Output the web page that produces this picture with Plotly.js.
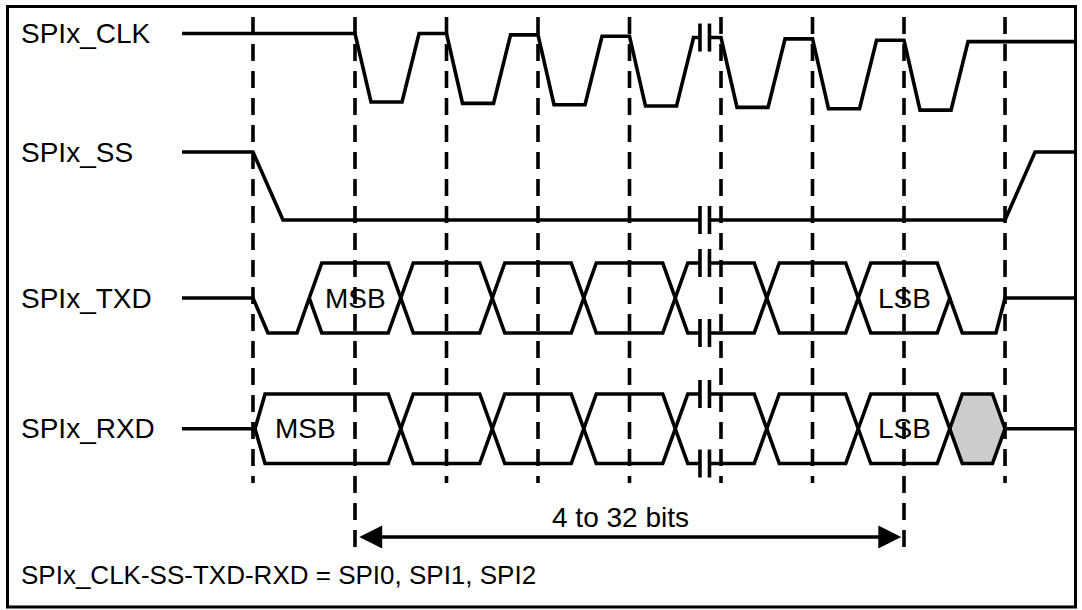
<!DOCTYPE html>
<html><head><meta charset="utf-8">
<script src="https://cdn.plot.ly/plotly-3.0.1.min.js"></script>
<style>html,body{margin:0;padding:0;background:#fff;}#chart{width:1082px;height:610px;}</style>
</head><body><div id="chart"></div>
<script>
// ---------------- data (time in bit periods, t = 0 at first SPIx_CLK falling edge) ----------------
const signalNames   = ['SPIx_CLK', 'SPIx_SS', 'SPIx_TXD', 'SPIx_RXD'];
const clkFallEdges  = [0, 1, 2, 3, 4, 5, 6];
const ssEdges       = [-1.115, 7.104];                 // SS falling, SS rising
const dataCrossings = [-0.5, 0.5, 1.5, 2.5, 3.5, 4.5, 5.5, 6.5];
const txdBitLabels  = ['MSB', '', '', '', '', '', 'LSB'];
const rxdBitLabels  = ['MSB', '', '', '', '', '', 'LSB'];
const txdLeadLow    = [-0.951, -0.634];               // TXD low before MSB
const txdTailLowEnd = 7.005;                          // TXD low after LSB
const rxdStart      = -1.093;                         // RXD MSB starts
const breakAt       = 3.822;                          // time-axis break
const bitSpan       = [0, 6];                         // clock edges spanned by the arrow
const spanText      = '4 to 32 bits';
const noteText      = 'SPIx_CLK-SS-TXD-RXD = SPI0, SPI1, SPI2';

// ---------------- layout / style ----------------
const W = 1082, H = 610, X0PX = 355, PXB = 91.5;
const tStart = (182 - X0PX) / PXB, tEnd = (1074 - X0PX) / PXB;
const ROW = {
  clk: {hi: 33.5, lo: 102, tilt: 1.35},
  ss:  {hi: 152, lo: 220},
  txd: {hi: 263, lo: 333},
  rxd: {hi: 394, lo: 463.5}
};
for (const k in ROW) ROW[k].mid = (ROW[k].hi + ROW[k].lo) / 2;
const CLK_F = 0.175, CLK_RS = 0.514, CLK_RE = 0.70, HALF = 0.137, SS_SLEW = 0.328;
const GAP = 0.052, BAR = 14, LW = 3.6;
const FONT = 'Liberation Sans, Arial, Helvetica, sans-serif';

const bars = [];
function interp(p, q, x) { return p[1] + (q[1] - p[1]) * (x - p[0]) / (q[0] - p[0]); }
function addPath(pts, X, Y) {
  const a = breakAt - GAP, b = breakAt + GAP;
  X.push(pts[0][0]); Y.push(pts[0][1]);
  for (let i = 1; i < pts.length; i++) {
    const p = pts[i - 1], q = pts[i];
    const lo = Math.min(p[0], q[0]), hi = Math.max(p[0], q[0]);
    if (lo < a && hi > b) {
      const f = p[0] < q[0] ? a : b, s = p[0] < q[0] ? b : a;
      X.push(f, null, s); Y.push(interp(p, q, f), null, interp(p, q, s));
      bars.push(interp(p, q, a));
    }
    X.push(q[0]); Y.push(q[1]);
  }
  X.push(null); Y.push(null);
}
function hexPts(c0, c1, r, hl, hr) {
  return [[c0, r.mid], [c0 + hl, r.hi], [c1 - hr, r.hi], [c1, r.mid], [c1 - hr, r.lo], [c0 + hl, r.lo], [c0, r.mid]];
}

const SX = [], SY = [];
// CLK
(function () {
  const r = ROW.clk; let hiPrev = r.hi;
  const pts = [[tStart, hiPrev]];
  clkFallEdges.forEach(k => {
    const yh = r.hi + r.tilt * Math.max(k, 0), yl = r.lo + r.tilt * Math.max(k, 0);
    pts.push([k, hiPrev], [k + CLK_F, yl], [k + CLK_RS, yl], [k + CLK_RE, yh]);
    hiPrev = yh;
  });
  pts.push([tEnd, hiPrev]);
  addPath(pts, SX, SY);
})();
// SS
(function () {
  const r = ROW.ss;
  addPath([[tStart, r.hi], [ssEdges[0], r.hi], [ssEdges[0] + SS_SLEW, r.lo], [ssEdges[1], r.lo],
           [ssEdges[1] + SS_SLEW, r.hi], [tEnd, r.hi]], SX, SY);
})();
// TXD
(function () {
  const r = ROW.txd, dc = dataCrossings;
  addPath([[tStart, r.mid], [ssEdges[0], r.mid], [txdLeadLow[0], r.lo], [txdLeadLow[1], r.lo], [dc[0], r.mid]], SX, SY);
  for (let i = 0; i < dc.length - 1; i++) addPath(hexPts(dc[i], dc[i + 1], r, HALF, HALF), SX, SY);
  const n = dc.length - 1;
  addPath([[dc[n], r.mid], [dc[n] + HALF, r.lo], [txdTailLowEnd, r.lo], [ssEdges[1], r.mid], [tEnd, r.mid]], SX, SY);
})();
// RXD
const grayX = [], grayY = [];
(function () {
  const r = ROW.rxd;
  const bnd = [rxdStart].concat(dataCrossings.slice(1));
  addPath([[tStart, r.mid], [rxdStart, r.mid]], SX, SY);
  for (let i = 0; i < bnd.length - 1; i++) addPath(hexPts(bnd[i], bnd[i + 1], r, i === 0 ? 0.11 : HALF, HALF), SX, SY);
  const last = bnd[bnd.length - 1];
  hexPts(last, ssEdges[1], r, HALF, HALF).forEach(p => { grayX.push(p[0]); grayY.push(p[1]); });
  addPath([[ssEdges[1], r.mid], [tEnd, r.mid]], SX, SY);
})();

// break bars
const BX = [], BY = [];
bars.forEach(y => {
  [breakAt - GAP, breakAt + GAP].forEach(x => { BX.push(x, x, null); BY.push(y - BAR, y + BAR, null); });
});

// dashed timing markers
const DX = [], DY = [];
const markers = [ssEdges[0]].concat(clkFallEdges, [ssEdges[1]]);
markers.forEach(t => {
  const long = (t === bitSpan[0] || t === bitSpan[1]);
  DX.push(t, t, null); DY.push(17, long ? 556 : 483, null);
});

const traces = [
  {x: DX, y: DY, mode: 'lines', line: {color: '#000', width: 3.6, dash: '17px,10px'}, hoverinfo: 'skip'},
  {x: grayX, y: grayY, mode: 'lines', fill: 'toself', fillcolor: '#cccccc', line: {color: '#000', width: LW}, hoverinfo: 'skip'},
  {x: SX, y: SY, mode: 'lines', line: {color: '#000', width: LW}, hoverinfo: 'skip'},
  {x: BX, y: BY, mode: 'lines', line: {color: '#000', width: LW}, hoverinfo: 'skip'}
];

const ann = [];
const labelY = [ROW.clk.hi, ROW.ss.hi, ROW.txd.mid, ROW.rxd.mid];
signalNames.forEach((s, i) => ann.push({xref: 'paper', yref: 'y', x: 19 / W, y: labelY[i], text: s,
  xanchor: 'left', yanchor: 'middle', showarrow: false, font: {family: FONT, size: 28, color: '#000'}}));
txdBitLabels.forEach((s, i) => { if (s) ann.push({x: (dataCrossings[i] + dataCrossings[i + 1]) / 2, y: ROW.txd.mid, text: s,
  showarrow: false, xanchor: 'center', yanchor: 'middle', font: {family: FONT, size: 28, color: '#000'}}); });
rxdBitLabels.forEach((s, i) => { if (s) {
  const x = i === 0 ? (rxdStart + clkFallEdges[0]) / 2 : (dataCrossings[i] + dataCrossings[i + 1]) / 2;
  ann.push({x: x, y: ROW.rxd.mid, text: s, showarrow: false, xanchor: 'center', yanchor: 'middle',
    font: {family: FONT, size: 28, color: '#000'}}); } });
// arrow
ann.push({x: bitSpan[1] - 0.03, y: 537, ax: bitSpan[0] + 0.03, ay: 537, axref: 'x', ayref: 'y', text: '',
  showarrow: true, arrowside: 'end+start', arrowhead: 2, startarrowhead: 2, arrowsize: 1.35, startarrowsize: 1.35,
  arrowwidth: 3.4, arrowcolor: '#000', standoff: 0, startstandoff: 0});
ann.push({x: (bitSpan[0] + bitSpan[1]) / 2 - 0.1, y: 517, text: spanText, showarrow: false, xanchor: 'center', yanchor: 'middle',
  font: {family: FONT, size: 28, color: '#000'}});
ann.push({xref: 'paper', yref: 'y', x: 19 / W, y: 575, text: noteText, showarrow: false, xanchor: 'left', yanchor: 'middle',
  font: {family: FONT, size: 26, color: '#000'}});

const layout = {
  width: W, height: H, autosize: false, margin: {l: 0, r: 0, t: 0, b: 0},
  paper_bgcolor: '#fff', plot_bgcolor: '#fff', showlegend: false,
  xaxis: {range: [-X0PX / PXB, (W - X0PX) / PXB], visible: false, fixedrange: true},
  yaxis: {range: [H, 0], visible: false, fixedrange: true},
  shapes: [{type: 'rect', xref: 'paper', yref: 'y', x0: 7.5 / W, x1: 1075.5 / W, y0: 6.5, y1: 607,
    line: {color: '#000', width: 3}, fillcolor: 'rgba(0,0,0,0)'}],
  annotations: ann
};
Plotly.newPlot('chart', traces, layout, {staticPlot: true, displayModeBar: false});
</script></body></html>
